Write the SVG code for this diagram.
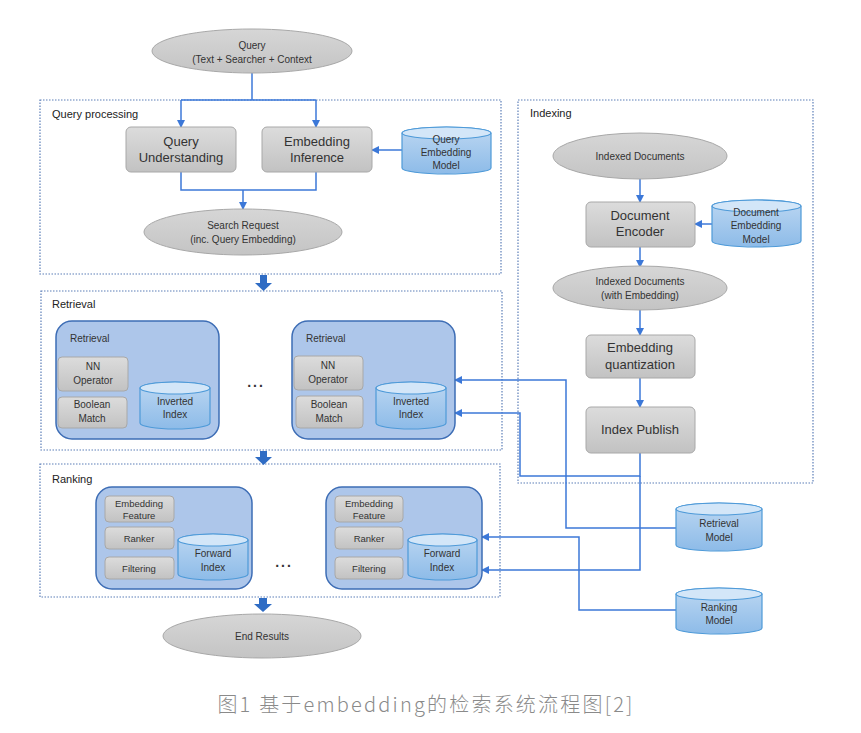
<svg xmlns="http://www.w3.org/2000/svg" width="861" height="733" viewBox="0 0 861 733">
<defs>
<linearGradient id="gbox" x1="0" y1="0" x2="0" y2="1"><stop offset="0" stop-color="#dcdcdc"/><stop offset="1" stop-color="#c2c2c2"/></linearGradient>
<linearGradient id="gell" x1="0" y1="0" x2="0" y2="1"><stop offset="0" stop-color="#d6d6d6"/><stop offset="1" stop-color="#c4c4c4"/></linearGradient>
<linearGradient id="gcyl" x1="0" y1="0" x2="0" y2="1"><stop offset="0" stop-color="#bcd7f2"/><stop offset="1" stop-color="#8dbbe8"/></linearGradient>
<marker id="ah" markerWidth="8" markerHeight="8" refX="7" refY="4" orient="auto" markerUnits="userSpaceOnUse"><path d="M0,0 L8,4 L0,8 Z" fill="#3c78d8"/></marker>
</defs>
<style>
text{font-family:"Liberation Sans","Noto Sans",Arial,sans-serif;fill:#333;text-anchor:middle}
.lbl{text-anchor:start;font-size:11px;fill:#222}
.big{font-size:13px}
.sm{font-size:10px}
.xs{font-size:9.5px}
.box{fill:url(#gbox);stroke:#a8a8a8;stroke-width:1}
.ell{fill:url(#gell);stroke:#a8a8a8;stroke-width:1}
.cyl{fill:url(#gcyl);stroke:#4e9ad8;stroke-width:1.2}
.cyltop{fill:#d3e6f8;stroke:#4e9ad8;stroke-width:1.2}
.grp{fill:none;stroke:#5d7fb8;stroke-width:1.2;stroke-dasharray:1.5 1.5}
.cont{fill:#adc6ea;stroke:#3d6db5;stroke-width:1.5}
.con{fill:none;stroke:#3c78d8;stroke-width:1.5}
.blk{fill:#2f6cc4}
</style>
<rect width="861" height="733" fill="#ffffff"/>

<g id="groups">
<rect class="grp" x="40" y="100" width="461" height="174"/>
<text class="lbl" x="52" y="118">Query processing</text>
<rect class="grp" x="518" y="100" width="295" height="383"/>
<text class="lbl" x="530" y="117">Indexing</text>
<rect class="grp" x="41" y="291" width="461" height="159"/>
<text class="lbl" x="52" y="308">Retrieval</text>
<rect class="grp" x="40" y="464" width="460" height="133"/>
<text class="lbl" x="52" y="483">Ranking</text>
</g>

<g id="connectors">
<path class="con" d="M252,73 V100"/>
<path class="con" d="M181,100 H316"/>
<path class="con" d="M181,100 V127" marker-end="url(#ah)"/>
<path class="con" d="M316,100 V127" marker-end="url(#ah)"/>
<path class="con" d="M402,150 H372" marker-end="url(#ah)"/>
<path class="con" d="M181,172 V190 H316 V172"/>
<path class="con" d="M243,190 V209" marker-end="url(#ah)"/>
<path class="con" d="M640,179 V202" marker-end="url(#ah)"/>
<path class="con" d="M712,224 H695" marker-end="url(#ah)"/>
<path class="con" d="M640,247 V267" marker-end="url(#ah)"/>
<path class="con" d="M640,310 V335" marker-end="url(#ah)"/>
<path class="con" d="M640,378 V407" marker-end="url(#ah)"/>
<path class="con" d="M676,528 H566 V380 H455" marker-end="url(#ah)"/>
<path class="con" d="M640,453 V476 H520 V413 H455" marker-end="url(#ah)"/>
<path class="con" d="M640,476 V570 H482" marker-end="url(#ah)"/>
<path class="con" d="M676,610 H579 V537 H482" marker-end="url(#ah)"/>
<path class="blk" d="M260,275 H267 V283 H272 L263.5,291 L255,283 H260 Z"/>
<path class="blk" d="M260,451 H267 V457 H272 L263.5,465 L255,457 H260 Z"/>
<path class="blk" d="M259,598 H267 V604 H272 L263,612 L254,604 H259 Z"/>
</g>

<g id="query">
<ellipse class="ell" cx="252" cy="51" rx="100" ry="22"/>
<text class="sm" x="252" y="49">Query</text>
<text class="sm" x="252" y="63">(Text + Searcher + Context</text>
</g>
<g id="query-understanding">
<rect class="box" x="126" y="127" width="110" height="45" rx="5"/>
<text class="big" x="181" y="146">Query</text>
<text class="big" x="181" y="162">Understanding</text>
</g>
<g id="embedding-inference">
<rect class="box" x="262" y="127" width="110" height="45" rx="5"/>
<text class="big" x="317" y="146">Embedding</text>
<text class="big" x="317" y="162">Inference</text>
</g>
<g id="query-embedding-model">
<path class="cyl" d="M402,133 A44.5,6 0 0 1 491,133 V168 A44.5,6 0 0 1 402,168 Z"/>
<ellipse class="cyltop" cx="446.5" cy="133" rx="44.5" ry="6"/>
<text class="sm" x="446" y="143">Query</text>
<text class="sm" x="446" y="156">Embedding</text>
<text class="sm" x="446" y="169">Model</text>
</g>
<g id="search-request">
<ellipse class="ell" cx="243" cy="232" rx="99" ry="23"/>
<text class="sm" x="243" y="229">Search Request</text>
<text class="sm" x="243" y="243">(inc. Query Embedding)</text>
</g>

<g id="indexed-documents">
<ellipse class="ell" cx="640" cy="156" rx="87" ry="23"/>
<text class="sm" x="640" y="160">Indexed Documents</text>
</g>
<g id="document-encoder">
<rect class="box" x="586" y="202" width="109" height="45" rx="5"/>
<text class="big" x="640" y="220">Document</text>
<text class="big" x="640" y="236">Encoder</text>
</g>
<g id="document-embedding-model">
<path class="cyl" d="M712,206 A44.5,6 0 0 1 801,206 V241 A44.5,6 0 0 1 712,241 Z"/>
<ellipse class="cyltop" cx="756.5" cy="206" rx="44.5" ry="6"/>
<text class="sm" x="756" y="216">Document</text>
<text class="sm" x="756" y="229">Embedding</text>
<text class="sm" x="756" y="243">Model</text>
</g>
<g id="indexed-documents-emb">
<ellipse class="ell" cx="640" cy="288" rx="87" ry="22"/>
<text class="sm" x="640" y="285">Indexed Documents</text>
<text class="sm" x="640" y="299">(with Embedding)</text>
</g>
<g id="embedding-quantization">
<rect class="box" x="586" y="335" width="109" height="43" rx="5"/>
<text class="big" x="640" y="352">Embedding</text>
<text class="big" x="640" y="369">quantization</text>
</g>
<g id="index-publish">
<rect class="box" x="586" y="407" width="109" height="46" rx="5"/>
<text class="big" x="640" y="434">Index Publish</text>
</g>

<g id="retrieval-1">
<rect class="cont" x="56" y="321" width="163" height="118" rx="16"/>
<text class="sm" x="70" y="342" style="text-anchor:start">Retrieval</text>
<rect class="box" x="58" y="357" width="70" height="34" rx="4"/>
<text class="sm" x="93" y="370">NN</text>
<text class="sm" x="93" y="384">Operator</text>
<rect class="box" x="58" y="397" width="69" height="31" rx="4"/>
<text class="sm" x="92" y="408">Boolean</text>
<text class="sm" x="92" y="422">Match</text>
<path class="cyl" d="M140,388 A35,6 0 0 1 210,388 V423 A35,6 0 0 1 140,423 Z"/>
<ellipse class="cyltop" cx="175" cy="388" rx="35" ry="6"/>
<text class="sm" x="175" y="405">Inverted</text>
<text class="sm" x="175" y="418">Index</text>
</g>
<text id="retrieval-dots" x="256" y="387" style="font-size:14px;font-weight:bold;letter-spacing:2px">...</text>
<g id="retrieval-2">
<rect class="cont" x="292" y="321" width="163" height="118" rx="16"/>
<text class="sm" x="306" y="342" style="text-anchor:start">Retrieval</text>
<rect class="box" x="294" y="356" width="69" height="34" rx="4"/>
<text class="sm" x="328" y="369">NN</text>
<text class="sm" x="328" y="383">Operator</text>
<rect class="box" x="296" y="396" width="67" height="32" rx="4"/>
<text class="sm" x="329" y="408">Boolean</text>
<text class="sm" x="329" y="422">Match</text>
<path class="cyl" d="M376,388 A35,6 0 0 1 446,388 V423 A35,6 0 0 1 376,423 Z"/>
<ellipse class="cyltop" cx="411" cy="388" rx="35" ry="6"/>
<text class="sm" x="411" y="405">Inverted</text>
<text class="sm" x="411" y="418">Index</text>
</g>

<g id="ranking-1">
<rect class="cont" x="96" y="487" width="156" height="102" rx="16"/>
<rect class="box" x="105" y="496" width="69" height="26" rx="4"/>
<text class="xs" x="139" y="507">Embedding</text>
<text class="xs" x="139" y="519">Feature</text>
<rect class="box" x="105" y="527" width="69" height="22" rx="4"/>
<text class="xs" x="139" y="542">Ranker</text>
<rect class="box" x="105" y="557" width="69" height="22" rx="4"/>
<text class="xs" x="139" y="572">Filtering</text>
<path class="cyl" d="M178,540 A35,6 0 0 1 248,540 V574 A35,6 0 0 1 178,574 Z"/>
<ellipse class="cyltop" cx="213" cy="540" rx="35" ry="6"/>
<text class="sm" x="213" y="557">Forward</text>
<text class="sm" x="213" y="571">Index</text>
</g>
<text id="ranking-dots" x="284" y="567" style="font-size:14px;font-weight:bold;letter-spacing:2px">...</text>
<g id="ranking-2">
<rect class="cont" x="326" y="487" width="156" height="102" rx="16"/>
<rect class="box" x="335" y="496" width="68" height="26" rx="4"/>
<text class="xs" x="369" y="507">Embedding</text>
<text class="xs" x="369" y="519">Feature</text>
<rect class="box" x="335" y="527" width="68" height="22" rx="4"/>
<text class="xs" x="369" y="542">Ranker</text>
<rect class="box" x="335" y="557" width="68" height="22" rx="4"/>
<text class="xs" x="369" y="572">Filtering</text>
<path class="cyl" d="M408,540 A34.5,6 0 0 1 477,540 V574 A34.5,6 0 0 1 408,574 Z"/>
<ellipse class="cyltop" cx="442.5" cy="540" rx="34.5" ry="6"/>
<text class="sm" x="442" y="557">Forward</text>
<text class="sm" x="442" y="571">Index</text>
</g>

<g id="end-results">
<ellipse class="ell" cx="262" cy="636" rx="99" ry="22"/>
<text class="sm" x="262" y="640">End Results</text>
</g>

<g id="retrieval-model">
<path class="cyl" d="M676,509 A43,6 0 0 1 762,509 V545 A43,6 0 0 1 676,545 Z"/>
<ellipse class="cyltop" cx="719" cy="509" rx="43" ry="6"/>
<text class="sm" x="719" y="527">Retrieval</text>
<text class="sm" x="719" y="541">Model</text>
</g>
<g id="ranking-model">
<path class="cyl" d="M676,594 A43,6 0 0 1 762,594 V628 A43,6 0 0 1 676,628 Z"/>
<ellipse class="cyltop" cx="719" cy="594" rx="43" ry="6"/>
<text class="sm" x="719" y="611">Ranking</text>
<text class="sm" x="719" y="624">Model</text>
</g>

<text id="caption" x="426" y="712" style="font-family:'Noto Sans CJK SC','Noto Sans',sans-serif;font-size:20px;font-weight:300;fill:#8a8a8a;letter-spacing:2.2px">图1 基于embedding的检索系统流程图[2]</text>
</svg>
